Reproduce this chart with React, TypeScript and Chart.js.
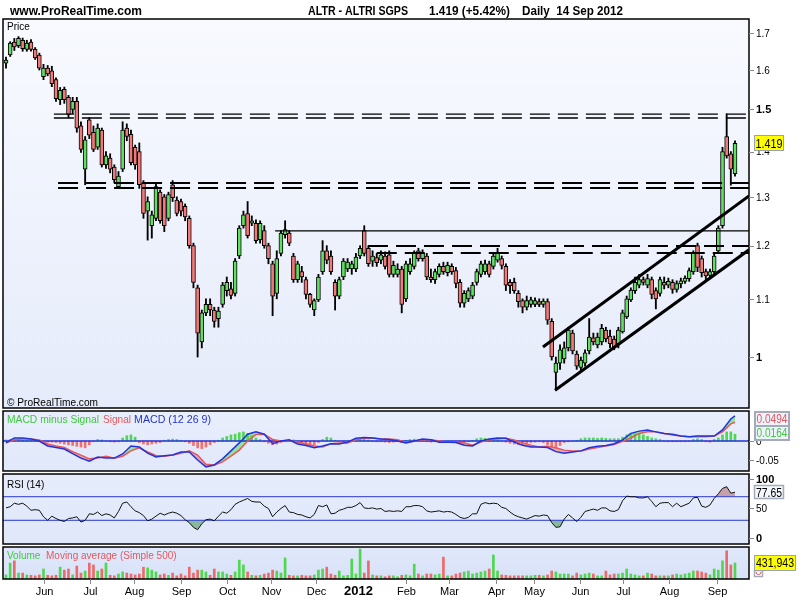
import React, { useEffect, useRef } from 'react';
import { Chart, registerables } from 'chart.js';

Chart.register(...registerables);

const FONT = 'Arial, "Liberation Sans", Helvetica, sans-serif';

// ---------------- DATA ----------------
// one candle per two trading days, May 2011 -> 14 Sep 2012
const OPEN = [
  1.618, 1.640, 1.675, 1.665, 1.680, 1.655, 1.675, 1.655, 1.640, 1.583,
  1.605, 1.598, 1.575, 1.524, 1.550, 1.530, 1.500, 1.520, 1.460, 1.360,
  1.475, 1.445, 1.410, 1.450, 1.370, 1.385, 1.365, 1.322, 1.360, 1.455,
  1.440, 1.410, 1.400, 1.330, 1.270, 1.240, 1.255, 1.310, 1.300, 1.255,
  1.326, 1.293, 1.290, 1.280, 1.255, 1.200, 1.120, 1.025, 1.075, 1.090,
  1.080, 1.065, 1.090, 1.115, 1.118, 1.110, 1.180, 1.240, 1.265, 1.245,
  1.245, 1.212, 1.230, 1.200, 1.165, 1.110, 1.185, 1.222, 1.225, 1.180,
  1.135, 1.150, 1.135, 1.108, 1.080, 1.098, 1.150, 1.190, 1.180, 1.130,
  1.105, 1.140, 1.155, 1.155, 1.155, 1.180, 1.230, 1.195, 1.170, 1.177,
  1.172, 1.180, 1.182, 1.145, 1.145, 1.155, 1.100, 1.150, 1.160, 1.190,
  1.175, 1.180, 1.140, 1.135, 1.145, 1.160, 1.148, 1.160, 1.152, 1.130,
  1.092, 1.100, 1.105, 1.130, 1.145, 1.150, 1.165, 1.160, 1.172, 1.175,
  1.160, 1.130, 1.130, 1.110, 1.097, 1.085, 1.090, 1.090, 1.095, 1.090,
  1.095, 1.060, 0.975, 0.990, 0.997, 1.015, 1.040, 1.005, 0.983, 0.990,
  1.010, 1.032, 1.020, 1.025, 1.045, 1.035, 1.030, 1.022, 1.042, 1.068,
  1.098, 1.115, 1.125, 1.135, 1.125, 1.135, 1.115, 1.110, 1.130, 1.125,
  1.130, 1.117, 1.127, 1.132, 1.137, 1.150, 1.200, 1.175, 1.150, 1.143,
  1.150, 1.190, 1.240, 1.435, 1.395, 1.350,
];
const HIGH = [
  1.634, 1.676, 1.685, 1.690, 1.686, 1.680, 1.682, 1.660, 1.645, 1.615,
  1.612, 1.610, 1.580, 1.555, 1.556, 1.535, 1.530, 1.530, 1.470, 1.435,
  1.480, 1.460, 1.465, 1.455, 1.400, 1.395, 1.370, 1.355, 1.470, 1.465,
  1.450, 1.415, 1.420, 1.335, 1.300, 1.270, 1.330, 1.315, 1.305, 1.310,
  1.335, 1.300, 1.295, 1.285, 1.260, 1.205, 1.125, 1.080, 1.100, 1.100,
  1.085, 1.085, 1.130, 1.140, 1.130, 1.175, 1.240, 1.270, 1.290, 1.260,
  1.252, 1.250, 1.240, 1.205, 1.170, 1.190, 1.230, 1.250, 1.230, 1.185,
  1.170, 1.160, 1.140, 1.110, 1.100, 1.145, 1.210, 1.200, 1.190, 1.135,
  1.140, 1.175, 1.175, 1.170, 1.185, 1.200, 1.240, 1.200, 1.190, 1.185,
  1.190, 1.188, 1.190, 1.170, 1.165, 1.160, 1.170, 1.175, 1.190, 1.195,
  1.192, 1.185, 1.155, 1.155, 1.165, 1.168, 1.168, 1.165, 1.158, 1.135,
  1.115, 1.120, 1.130, 1.155, 1.170, 1.172, 1.170, 1.185, 1.195, 1.180,
  1.165, 1.135, 1.138, 1.115, 1.100, 1.105, 1.103, 1.102, 1.100, 1.100,
  1.100, 1.065, 1.000, 1.020, 1.025, 1.050, 1.045, 1.010, 1.000, 1.012,
  1.065, 1.040, 1.040, 1.055, 1.050, 1.045, 1.035, 1.050, 1.080, 1.105,
  1.120, 1.140, 1.145, 1.140, 1.145, 1.140, 1.120, 1.140, 1.140, 1.138,
  1.135, 1.133, 1.138, 1.142, 1.157, 1.190, 1.205, 1.180, 1.155, 1.155,
  1.185, 1.240, 1.410, 1.489, 1.400, 1.425,
];
const LOW = [
  1.605, 1.636, 1.652, 1.660, 1.650, 1.650, 1.650, 1.628, 1.600, 1.575,
  1.585, 1.557, 1.520, 1.512, 1.515, 1.480, 1.490, 1.445, 1.398, 1.326,
  1.430, 1.400, 1.405, 1.365, 1.362, 1.352, 1.330, 1.318, 1.355, 1.425,
  1.370, 1.360, 1.318, 1.255, 1.211, 1.215, 1.250, 1.245, 1.228, 1.250,
  1.290, 1.260, 1.260, 1.250, 1.195, 1.120, 1.000, 1.015, 1.070, 1.070,
  1.050, 1.050, 1.085, 1.105, 1.100, 1.105, 1.175, 1.235, 1.215, 1.240,
  1.205, 1.205, 1.195, 1.165, 1.070, 1.100, 1.180, 1.215, 1.200, 1.130,
  1.130, 1.130, 1.100, 1.085, 1.070, 1.095, 1.145, 1.165, 1.145, 1.080,
  1.100, 1.135, 1.150, 1.145, 1.150, 1.175, 1.180, 1.160, 1.160, 1.160,
  1.165, 1.155, 1.140, 1.140, 1.140, 1.075, 1.095, 1.145, 1.155, 1.170,
  1.170, 1.135, 1.130, 1.128, 1.140, 1.145, 1.142, 1.145, 1.120, 1.085,
  1.085, 1.095, 1.100, 1.125, 1.140, 1.145, 1.140, 1.155, 1.168, 1.155,
  1.115, 1.110, 1.110, 1.085, 1.075, 1.080, 1.085, 1.086, 1.086, 1.085,
  1.055, 0.995, 0.947, 0.980, 0.990, 1.010, 1.005, 0.980, 0.978, 0.985,
  1.005, 1.020, 1.015, 1.020, 1.025, 1.015, 1.012, 1.015, 1.040, 1.065,
  1.095, 1.110, 1.120, 1.125, 1.120, 1.100, 1.082, 1.105, 1.118, 1.120,
  1.110, 1.112, 1.120, 1.128, 1.132, 1.145, 1.150, 1.140, 1.135, 1.138,
  1.145, 1.185, 1.235, 1.385, 1.325, 1.345,
];
const CLOSE = [
  1.626, 1.672, 1.662, 1.685, 1.657, 1.672, 1.655, 1.632, 1.605, 1.605,
  1.590, 1.565, 1.527, 1.548, 1.524, 1.488, 1.520, 1.455, 1.405, 1.427,
  1.438, 1.405, 1.455, 1.370, 1.390, 1.360, 1.337, 1.345, 1.450, 1.435,
  1.375, 1.370, 1.326, 1.265, 1.290, 1.262, 1.322, 1.250, 1.240, 1.305,
  1.298, 1.265, 1.270, 1.258, 1.200, 1.130, 1.040, 1.075, 1.090, 1.080,
  1.060, 1.078, 1.125, 1.130, 1.106, 1.170, 1.235, 1.262, 1.220, 1.250,
  1.210, 1.245, 1.200, 1.175, 1.105, 1.175, 1.225, 1.232, 1.205, 1.135,
  1.165, 1.140, 1.108, 1.090, 1.097, 1.140, 1.190, 1.172, 1.150, 1.105,
  1.135, 1.170, 1.168, 1.165, 1.178, 1.195, 1.185, 1.165, 1.180, 1.167,
  1.182, 1.160, 1.145, 1.162, 1.155, 1.090, 1.165, 1.165, 1.185, 1.175,
  1.185, 1.140, 1.135, 1.150, 1.160, 1.150, 1.162, 1.150, 1.128, 1.092,
  1.110, 1.115, 1.125, 1.150, 1.165, 1.165, 1.145, 1.180, 1.187, 1.162,
  1.125, 1.124, 1.115, 1.095, 1.085, 1.097, 1.098, 1.097, 1.090, 1.096,
  1.062, 1.000, 0.990, 1.012, 1.015, 1.045, 1.010, 0.985, 0.995, 1.007,
  1.033, 1.025, 1.033, 1.048, 1.030, 1.022, 1.017, 1.045, 1.075, 1.100,
  1.116, 1.130, 1.135, 1.130, 1.137, 1.108, 1.100, 1.135, 1.125, 1.132,
  1.117, 1.128, 1.133, 1.138, 1.152, 1.185, 1.158, 1.148, 1.142, 1.150,
  1.180, 1.235, 1.400, 1.390, 1.360, 1.419,
];

// MACD (12 26 9) and signal, sampled every 4 trading days (last point = last candle)
const MACD = [
  -0.005, 0.008, 0.008, 0.005, 0.000, -0.013, -0.017, -0.021, -0.033, -0.045,
  -0.053, -0.042, -0.045, -0.045, -0.034, -0.013, -0.016, -0.032, -0.042, -0.039,
  -0.037, -0.029, -0.029, -0.050, -0.068, -0.063, -0.047, -0.026, -0.005, 0.018,
  0.024, 0.018, -0.007, 0.000, 0.003, -0.008, -0.012, -0.018, -0.013, -0.007,
  -0.008, -0.003, 0.007, 0.009, 0.008, 0.005, 0.004, 0.000, -0.005, 0.000,
  0.005, 0.003, -0.003, -0.003, -0.004, -0.011, -0.013, 0.000, 0.005, 0.008,
  0.007, -0.003, -0.011, -0.016, -0.016, -0.017, -0.028, -0.032, -0.029, -0.026,
  -0.018, -0.014, -0.012, -0.007, 0.003, 0.020, 0.026, 0.029, 0.024, 0.020,
  0.018, 0.013, 0.011, 0.013, 0.013, 0.013, 0.029, 0.058, 0.0658,
];
const SIGNAL = [
  -0.005, 0.003, 0.005, 0.005, 0.003, -0.008, -0.013, -0.017, -0.028, -0.037,
  -0.047, -0.045, -0.040, -0.045, -0.040, -0.026, -0.018, -0.029, -0.038, -0.040,
  -0.037, -0.032, -0.026, -0.037, -0.061, -0.063, -0.055, -0.040, -0.024, 0.000,
  0.017, 0.018, 0.004, 0.000, 0.001, -0.003, -0.007, -0.013, -0.016, -0.007,
  -0.005, -0.005, 0.003, 0.007, 0.008, 0.005, 0.005, 0.003, -0.004, -0.001,
  0.003, 0.003, 0.000, -0.003, -0.003, -0.005, -0.011, -0.003, 0.003, 0.005,
  0.007, 0.003, -0.005, -0.011, -0.016, -0.014, -0.018, -0.024, -0.026, -0.026,
  -0.021, -0.017, -0.013, -0.009, -0.001, 0.008, 0.020, 0.024, 0.024, 0.020,
  0.016, 0.013, 0.011, 0.012, 0.011, 0.013, 0.024, 0.045, 0.0494,
];
// MACD minus Signal histogram, one bar per candle
const HIST = [
  0.003, 0.004, 0.005, 0.003, 0.002, 0.002, 0.001, 0.001, 0.000, -0.002,
  -0.003, -0.003, -0.004, -0.006, -0.008, -0.010, -0.012, -0.014, -0.016, -0.018,
  -0.010, -0.002, 0.004, 0.003, 0.000, -0.002, -0.003, -0.002, 0.008, 0.014,
  0.016, 0.010, -0.004, -0.008, -0.010, -0.008, -0.006, -0.004, 0.002, 0.004,
  0.005, 0.004, 0.002, -0.002, -0.006, -0.012, -0.018, -0.020, -0.016, -0.010,
  -0.004, 0.002, 0.008, 0.012, 0.016, 0.018, 0.022, 0.024, 0.020, 0.014,
  0.008, 0.004, -0.002, -0.006, -0.010, -0.008, -0.004, -0.002, 0.002, 0.003,
  0.000, -0.006, -0.010, -0.012, -0.010, -0.004, 0.004, 0.010, 0.008, 0.002,
  0.000, -0.002, 0.000, 0.002, 0.004, 0.006, 0.006, 0.003, -0.001, -0.002,
  -0.002, -0.003, -0.004, -0.003, -0.002, -0.004, 0.002, 0.004, 0.005, 0.003,
  0.001, -0.002, -0.003, -0.002, -0.002, -0.001, 0.000, -0.002, -0.004, -0.006,
  -0.004, -0.002, 0.002, 0.006, 0.008, 0.007, 0.005, 0.004, 0.002, 0.000,
  -0.003, -0.006, -0.008, -0.010, -0.010, -0.006, -0.004, -0.003, -0.002, -0.004,
  -0.010, -0.016, -0.018, -0.012, -0.004, -0.002, 0.000, 0.002, 0.006, 0.008,
  0.008, 0.008, 0.007, 0.008, 0.007, 0.006, 0.006, 0.006, 0.010, 0.016,
  0.020, 0.020, 0.018, 0.016, 0.012, 0.008, 0.006, 0.004, -0.001, -0.002,
  -0.002, -0.002, -0.002, -0.002, -0.001, 0.004, 0.006, 0.004, -0.002, -0.003,
  0.004, 0.008, 0.016, 0.024, 0.024, 0.018,
];

// RSI (14), one value per candle
const RSI = [
  51, 53, 59, 57, 59, 54, 47, 48, 47, 36,
  30, 37, 33, 30, 28, 33, 34, 36, 27, 30,
  41, 40, 44, 38, 41, 39, 34, 45, 59, 61,
  53, 46, 43, 38, 29, 32, 37, 42, 39, 42,
  44, 42, 38, 31, 26, 18, 14, 24, 31, 32,
  29, 37, 44, 42, 48, 57, 61, 64, 67, 62,
  61, 61, 54, 50, 36, 44, 50, 55, 44, 43,
  40, 39, 36, 34, 40, 55, 53, 56, 41, 42,
  47, 49, 52, 52, 55, 60, 51, 50, 51, 49,
  50, 45, 46, 45, 46, 45, 53, 53, 55, 55,
  53, 46, 44, 45, 46, 44, 45, 44, 40, 35,
  33, 35, 41, 41, 57, 60, 58, 59, 58, 52,
  50, 44, 39, 36, 34, 32, 35, 38, 37, 39,
  38, 26, 18, 19, 32, 40, 34, 28, 35, 45,
  47, 49, 47, 51, 51, 46, 45, 48, 63, 71,
  70, 70, 68, 68, 70, 62, 53, 59, 60, 60,
  53, 59, 53, 56, 59, 68, 69, 54, 52, 56,
  67, 75, 84, 87, 76, 77.65,
];

// Volume in thousands of shares, one bar per candle
const VOLUME_K = [
  110, 430, 490, 160, 160, 110, 100, 85, 110, 270,
  100, 85, 100, 320, 240, 270, 110, 350, 160, 215,
  430, 380, 215, 270, 430, 100, 85, 135, 190, 160,
  135, 110, 135, 320, 300, 240, 190, 110, 135, 100,
  160, 85, 135, 85, 320, 160, 240, 240, 190, 100,
  270, 190, 190, 135, 100, 190, 510, 380, 190, 100,
  85, 100, 135, 160, 240, 215, 160, 570, 100, 85,
  85, 100, 85, 85, 110, 240, 270, 320, 135, 100,
  215, 85, 100, 540, 135, 810, 160, 490, 110, 85,
  85, 60, 85, 85, 60, 100, 110, 85, 400, 135,
  85, 135, 135, 110, 135, 590, 85, 85, 135, 160,
  190, 215, 135, 160, 190, 215, 270, 650, 215, 110,
  100, 85, 85, 85, 85, 85, 85, 100, 100, 85,
  110, 215, 190, 135, 135, 135, 85, 160, 110, 135,
  160, 135, 85, 85, 215, 110, 135, 135, 160, 270,
  135, 110, 85, 85, 160, 135, 85, 85, 85, 85,
  110, 135, 110, 135, 160, 215, 215, 190, 160, 110,
  270, 240, 490, 760, 380, 431.943,
];

// horizontal support / resistance levels drawn on the price panel
const LEVELS = [1.4886, 1.4791, 1.3297, 1.3187, 1.2293, 1.1993, 1.1858];
const LEVEL_START = [11.5, 11.5, 12.5, 12.5, 64.6, 86.9, 89.0];
// rising channel (candle index, price)
const CHANNEL_UPPER = [[128.9, 1.0165], [178.36, 1.302]];
const CHANNEL_LOWER = [[131.8, 0.947], [178.36, 1.192]];

// axis ticks
const MONTH_LABELS = ['Jun', 'Jul', 'Aug', 'Sep', 'Oct', 'Nov', 'Dec', '2012', 'Feb', 'Mar', 'Apr', 'May', 'Jun', 'Jul', 'Aug', 'Sep'];
const MONTH_POS = [9.12, 20.16, 30.73, 42.01, 53.05, 63.61, 74.42, 84.5, 96.02, 106.35, 117.63, 126.75, 137.79, 148.11, 159.15, 170.68];
const PRICE_TICKS = [1.7, 1.6, 1.5, 1.4, 1.3, 1.2, 1.1, 1];
const PRICE_TICK_LABELS = ['1.7', '1.6', '1.5', '1.4', '1.3', '1.2', '1.1', '1'];
const PRICE_BOLD = [1.5, 1];
const MACD_TICKS = [0, -0.05];
const MACD_TICK_LABELS = ['0', '-0.05'];
const RSI_TICKS = [100, 50, 0];
const RSI_TICK_LABELS = ['100', '50', '0'];
const RSI_BOLD = [100, 0];
const RSI_LEVELS = [70, 30];

const LAST_PRICE = '1.419';
const LAST_SIGNAL = '0.0494';
const LAST_HIST = '0.0164';
const LAST_RSI = '77.65';
const LAST_VOLUME = '431,943';

// ---------------- STYLE ----------------
const XMIN = -0.72;
const XMAX = 178.36;
const LEVEL_WIDTH = [1.3, 1.3, 2, 2, 1.3, 2, 2];
const LEVEL_DASHED = [true, true, true, true, false, true, true];
const UP = '#62de62';
const DOWN = '#f07a7a';

const N = Math.min(OPEN.length, HIGH.length, LOW.length, CLOSE.length);
const IDX = Array.from({ length: N }, (_, i) => i);

type Ctx = CanvasRenderingContext2D;

function drawText(ctx: Ctx, s: string, x: number, y: number, font: string, color: string,
  align: CanvasTextAlign = 'left', baseline: CanvasTextBaseline = 'alphabetic', maxW?: number) {
  ctx.save();
  ctx.font = font;
  ctx.fillStyle = color;
  ctx.textAlign = align;
  ctx.textBaseline = baseline;
  if (maxW !== undefined) ctx.fillText(s, x, y, maxW);
  else ctx.fillText(s, x, y);
  ctx.restore();
}

function drawBox(ctx: Ctx, x: number, y: number, w: number, h: number, fill: string, stroke: string, lw: number) {
  ctx.save();
  ctx.fillStyle = fill;
  ctx.fillRect(x, y, w, h);
  ctx.strokeStyle = stroke;
  ctx.lineWidth = lw;
  ctx.strokeRect(x, y, w, h);
  ctx.restore();
}

function drawRightTicks(chart: any, values: number[], labels: string[], bold: number[]) {
  const { ctx, chartArea: a } = chart;
  const ys = chart.scales.y;
  values.forEach((v, k) => {
    const py = ys.getPixelForValue(v);
    ctx.save();
    ctx.strokeStyle = '#8a8a8a';
    ctx.lineWidth = 1;
    ctx.beginPath();
    ctx.moveTo(a.right, Math.round(py) + 0.5);
    ctx.lineTo(a.right + 5, Math.round(py) + 0.5);
    ctx.stroke();
    ctx.restore();
    const b = bold.includes(v);
    drawText(ctx, labels[k], a.right + 7, py + 1, (b ? 'bold 11px ' : '10px ') + FONT, '#000', 'left', 'middle');
  });
}

function drawBorder(chart: any) {
  const { ctx, chartArea: a } = chart;
  ctx.save();
  ctx.strokeStyle = '#000';
  ctx.lineWidth = 1.5;
  ctx.strokeRect(a.left, a.top, a.right - a.left, a.bottom - a.top);
  ctx.restore();
}

function panelPlugin(id: string, c0: string, c1: string, after: (chart: any) => void) {
  return {
    id,
    beforeDraw(chart: any) {
      const { ctx, chartArea: a } = chart;
      const g = ctx.createLinearGradient(0, a.top, 0, a.bottom);
      g.addColorStop(0, c0);
      g.addColorStop(1, c1);
      ctx.save();
      ctx.fillStyle = g;
      ctx.fillRect(a.left, a.top, a.right - a.left, a.bottom - a.top);
      ctx.restore();
    },
    afterDraw(chart: any) {
      drawBorder(chart);
      after(chart);
    },
  };
}

function baseOptions(pad: any) {
  return {
    animation: false,
    responsive: false,
    maintainAspectRatio: false,
    events: [],
    layout: { padding: pad },
    plugins: { legend: { display: false }, tooltip: { enabled: false } },
  };
}

function xScale() {
  return { type: 'linear', min: XMIN, max: XMAX, display: false, offset: false };
}

// ---------------- CHART CONFIGS ----------------
function priceConfig(): any {
  const levelSets = LEVELS.map((lv, k) => ({
    type: 'line',
    data: [{ x: LEVEL_START[k], y: lv }, { x: XMAX, y: lv }],
    borderColor: '#000',
    borderWidth: LEVEL_WIDTH[k],
    borderDash: LEVEL_DASHED[k] ? [20, 8] : [],
    pointRadius: 0,
    fill: false,
    order: -1,
  }));
  const channelSets = [CHANNEL_UPPER, CHANNEL_LOWER].map((pts) => ({
    type: 'line',
    data: pts.map((p) => ({ x: p[0], y: p[1] })),
    borderColor: '#000',
    borderWidth: 3,
    pointRadius: 0,
    fill: false,
    order: -2,
  }));
  return {
    type: 'bar',
    data: {
      datasets: [
        ...levelSets,
        ...channelSets,
        {
          type: 'bar',
          data: IDX.map((i) => ({ x: i, y: [OPEN[i], CLOSE[i]] })),
          backgroundColor: IDX.map((i) => (CLOSE[i] >= OPEN[i] ? UP : DOWN)),
          borderColor: '#000',
          borderWidth: 1,
          borderSkipped: false,
          barThickness: 4,
          grouped: false,
          order: 0,
        },
        {
          type: 'bar',
          data: IDX.map((i) => ({ x: i, y: [LOW[i], HIGH[i]] })),
          backgroundColor: '#000',
          barThickness: 1.2,
          grouped: false,
          order: 1,
        },
      ],
    },
    options: {
      ...baseOptions({ left: 3, right: 51, top: 19, bottom: 1 }),
      scales: {
        x: xScale(),
        y: { type: 'logarithmic', min: 0.9199, max: 1.7395, display: false, beginAtZero: false },
      },
    },
    plugins: [
      panelPlugin('pricePanel', '#f8faff', '#e5ebfa', (chart) => {
        const { ctx } = chart;
        drawRightTicks(chart, PRICE_TICKS, PRICE_TICK_LABELS, PRICE_BOLD);
        drawText(ctx, 'www.ProRealTime.com', 10, 15, 'bold 12px ' + FONT, '#000');
        drawText(ctx, 'ALTR - ALTRI SGPS', 308, 15, 'bold 12px ' + FONT, '#000', 'left', 'alphabetic', 100);
        drawText(ctx, '1.419 (+5.42%)', 429, 15, 'bold 12px ' + FONT, '#000', 'left', 'alphabetic', 81);
        drawText(ctx, 'Daily  14 Sep 2012', 522, 15, 'bold 12px ' + FONT, '#000', 'left', 'alphabetic', 101);
        drawText(ctx, 'Price', 7, 30, '10px ' + FONT, '#000', 'left', 'alphabetic', 23);
        drawText(ctx, '\u00A9 ProRealTime.com', 7, 406, '11px ' + FONT, '#000', 'left', 'alphabetic', 91);
        const py = chart.scales.y.getPixelForValue(CLOSE[N - 1]);
        drawBox(ctx, 754.5, Math.round(py) - 7.5, 29, 15, '#ffff00', '#98a2b3', 1);
        drawText(ctx, LAST_PRICE, 769, py + 1, '12px ' + FONT, '#000', 'center', 'middle', 27);
      }),
    ],
  };
}

function macdConfig(): any {
  const M = Math.min(MACD.length, SIGNAL.length);
  const mx = (k: number) => Math.min(k * 2, N - 1);
  const H = Math.min(HIST.length, N);
  return {
    type: 'bar',
    data: {
      datasets: [
        {
          type: 'bar',
          data: IDX.slice(0, H).map((i) => ({ x: i, y: HIST[i] })),
          backgroundColor: IDX.slice(0, H).map((i) => (HIST[i] >= 0 ? '#4fd84f' : '#ee7272')),
          barThickness: 2,
          grouped: false,
          order: 4,
        },
        {
          type: 'line',
          data: [{ x: XMIN, y: 0 }, { x: XMAX, y: 0 }],
          borderColor: '#2233dd',
          borderWidth: 1.5,
          pointRadius: 0,
          fill: false,
          order: 3,
        },
        {
          type: 'line',
          data: SIGNAL.slice(0, M).map((v, k) => ({ x: mx(k), y: v })),
          borderColor: '#e8575d',
          borderWidth: 1.5,
          pointRadius: 0,
          fill: false,
          order: 2,
        },
        {
          type: 'line',
          data: MACD.slice(0, M).map((v, k) => ({ x: mx(k), y: v })),
          borderColor: '#2233dd',
          borderWidth: 1.5,
          pointRadius: 0,
          fill: { target: 2, above: 'rgba(120,226,120,0.75)', below: 'rgba(232,140,150,0.75)' },
          order: 1,
        },
      ],
    },
    options: {
      ...baseOptions({ left: 3, right: 51, top: 2, bottom: 3 }),
      plugins: { legend: { display: false }, tooltip: { enabled: false }, filler: { drawTime: 'beforeDatasetsDraw' } },
      scales: {
        x: xScale(),
        y: { type: 'linear', min: -0.0789, max: 0.0789, display: false },
      },
    },
    plugins: [
      panelPlugin('macdPanel', '#e8eefb', '#e1e8fa', (chart) => {
        const { ctx } = chart;
        drawRightTicks(chart, MACD_TICKS, MACD_TICK_LABELS, []);
        drawText(ctx, 'MACD minus Signal', 7, 423 - 409, '11px ' + FONT, '#3fc93f', 'left', 'alphabetic', 92);
        drawText(ctx, 'Signal', 103, 423 - 409, '11px ' + FONT, '#e8575d', 'left', 'alphabetic', 28);
        drawText(ctx, 'MACD (12 26 9)', 134, 423 - 409, '11px ' + FONT, '#2233cc', 'left', 'alphabetic', 77);
        const y0 = 412 - 409;
        drawBox(ctx, 755, y0, 34, 14, '#eef2fb', '#a3abb9', 2);
        drawText(ctx, LAST_SIGNAL, 772, y0 + 8, '12px ' + FONT, '#e8575d', 'center', 'middle', 31);
        drawBox(ctx, 755, y0 + 14, 34, 14, '#eef2fb', '#a3abb9', 2);
        drawText(ctx, LAST_HIST, 772, y0 + 22, '12px ' + FONT, '#3fc93f', 'center', 'middle', 31);
      }),
    ],
  };
}

function rsiConfig(): any {
  const R = Math.min(RSI.length, N);
  const pts = IDX.slice(0, R).map((i) => ({ x: i, y: RSI[i] }));
  return {
    type: 'line',
    data: {
      datasets: [
        ...RSI_LEVELS.map((lv) => ({
          data: [{ x: XMIN, y: lv }, { x: XMAX, y: lv }],
          borderColor: '#2b3bd4',
          borderWidth: 1,
          pointRadius: 0,
          fill: false,
          order: 3,
        })),
        {
          data: pts,
          borderWidth: 0,
          borderColor: 'rgba(0,0,0,0)',
          pointRadius: 0,
          fill: { value: 30, above: 'rgba(0,0,0,0)', below: '#88b89a' },
          order: 2,
        },
        {
          data: pts,
          borderWidth: 0,
          borderColor: 'rgba(0,0,0,0)',
          pointRadius: 0,
          fill: { value: 70, above: '#c6a1ac', below: 'rgba(0,0,0,0)' },
          order: 2,
        },
        {
          data: pts,
          borderColor: '#111',
          borderWidth: 1,
          pointRadius: 0,
          fill: false,
          order: 1,
        },
      ],
    },
    options: {
      ...baseOptions({ left: 3, right: 51, top: 2, bottom: 2 }),
      plugins: { legend: { display: false }, tooltip: { enabled: false }, filler: { drawTime: 'beforeDatasetsDraw' } },
      scales: {
        x: xScale(),
        y: { type: 'linear', min: -10.2, max: 108.5, display: false },
      },
    },
    plugins: [
      panelPlugin('rsiPanel', '#e6ecfb', '#dfe7f9', (chart) => {
        const { ctx } = chart;
        drawRightTicks(chart, RSI_TICKS, RSI_TICK_LABELS, RSI_BOLD);
        drawText(ctx, 'RSI (14)', 7, 488 - 472, '10px ' + FONT, '#000', 'left', 'alphabetic', 38);
        const py = chart.scales.y.getPixelForValue(RSI[R - 1]);
        drawBox(ctx, 754.5, Math.round(py) - 6.5, 29, 13, '#f4f7fd', '#a3abb9', 1.5);
        drawText(ctx, LAST_RSI, 769, py + 1, '12px ' + FONT, '#000', 'center', 'middle', 26);
      }),
    ],
  };
}

function volumeConfig(): any {
  const V = Math.min(VOLUME_K.length, N);
  return {
    type: 'bar',
    data: {
      datasets: [
        {
          data: IDX.slice(0, V).map((i) => ({ x: i, y: VOLUME_K[i] })),
          backgroundColor: IDX.slice(0, V).map((i) => (CLOSE[i] >= OPEN[i] ? '#4fd84f' : '#ee6a6a')),
          barThickness: 2,
          grouped: false,
        },
      ],
    },
    options: {
      ...baseOptions({ left: 3, right: 51, top: 2, bottom: 21 }),
      scales: {
        x: xScale(),
        y: { type: 'linear', min: 0, max: 864, display: false },
      },
    },
    plugins: [
      panelPlugin('volPanel', '#e0e8fa', '#d8e2f8', (chart) => {
        const { ctx, chartArea: a } = chart;
        drawText(ctx, 'Volume', 7, 559 - 545, '10px ' + FONT, '#3fc93f', 'left', 'alphabetic', 35);
        drawText(ctx, 'Moving average (Simple 500)', 46, 559 - 545, '10px ' + FONT, '#e8575d', 'left', 'alphabetic', 139);
        const py = chart.scales.y.getPixelForValue(VOLUME_K[V - 1]);
        ctx.save();
        ctx.strokeStyle = '#a3abb9';
        ctx.lineWidth = 1.5;
        ctx.strokeRect(754.5, 570.5 - 545, 8, 6);
        ctx.strokeStyle = '#e05050';
        ctx.lineWidth = 1;
        ctx.beginPath();
        ctx.arc(758.5, 572 - 545, 2.5, 0, Math.PI);
        ctx.stroke();
        ctx.restore();
        drawBox(ctx, 754.5, Math.round(py) - 7.5, 41, 15, '#ffff00', '#98a2b3', 1);
        drawText(ctx, LAST_VOLUME, 775, py + 1, '12px ' + FONT, '#000', 'center', 'middle', 38);
        const xs = chart.scales.x;
        MONTH_LABELS.forEach((lab, k) => {
          const px = Math.round(xs.getPixelForValue(MONTH_POS[k])) + 0.5;
          const isYear = /^\d{4}$/.test(lab);
          if (!isYear) {
            ctx.save();
            ctx.strokeStyle = '#8a8a8a';
            ctx.lineWidth = 1;
            ctx.beginPath();
            ctx.moveTo(px, a.bottom);
            ctx.lineTo(px, a.bottom + 5);
            ctx.stroke();
            ctx.restore();
          }
          drawText(ctx, lab, px, 595 - 545, (isYear ? 'bold 13px ' : '11px ') + FONT, '#000', 'center');
        });
      }),
    ],
  };
}

// ---------------- COMPONENTS ----------------
function Panel({ top, height, build }: { top: number; height: number; build: () => any }) {
  const ref = useRef<HTMLCanvasElement | null>(null);
  useEffect(() => {
    if (!ref.current) return;
    const chart = new Chart(ref.current, build());
    return () => chart.destroy();
  }, []);
  return (
    <canvas
      ref={ref}
      width={800}
      height={height}
      style={{ position: 'absolute', left: 0, top, width: 800, height, display: 'block' }}
    />
  );
}

export default function App() {
  return (
    <div style={{ position: 'fixed', left: 0, top: 0, width: 800, height: 600, background: '#fff', overflow: 'hidden' }}>
      <Panel top={0} height={409} build={priceConfig} />
      <Panel top={409} height={65} build={macdConfig} />
      <Panel top={472} height={74} build={rsiConfig} />
      <Panel top={545} height={55} build={volumeConfig} />
    </div>
  );
}
